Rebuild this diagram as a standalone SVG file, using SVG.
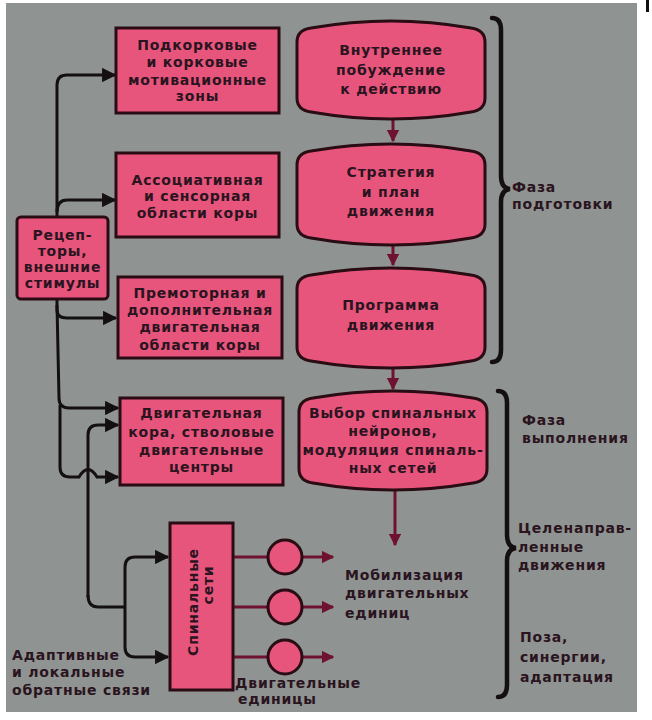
<svg xmlns="http://www.w3.org/2000/svg" width="652" height="720" viewBox="0 0 652 720">
<defs>
<style>
.box{fill:#e8557c;stroke:#2a0c14;stroke-width:3}
.t{font-family:"DejaVu Sans","Liberation Sans",sans-serif;font-weight:bold;font-size:14px;fill:#2a1420;text-anchor:middle;letter-spacing:0.8px}
.l{font-family:"DejaVu Sans","Liberation Sans",sans-serif;font-weight:bold;font-size:14px;fill:#2a1420;letter-spacing:0.8px}
.k{fill:none;stroke:#141012;stroke-width:3}
.m{fill:none;stroke:#6e1230;stroke-width:3}
.r{fill:none;stroke:#d42452;stroke-width:3}
.br{fill:none;stroke:#141012;stroke-width:4.5;stroke-linecap:round}
</style>
<marker id="ak" viewBox="0 0 10 10" refX="9" refY="5" markerWidth="4.8" markerHeight="4.8" orient="auto" markerUnits="strokeWidth"><path d="M0,0 L10,5 L0,10 Z" fill="#141012"/></marker>
<marker id="am" viewBox="0 0 10 10" refX="9" refY="5" markerWidth="4.2" markerHeight="4.2" orient="auto" markerUnits="strokeWidth"><path d="M0,0 L10,5 L0,10 Z" fill="#6e1230"/></marker>
</defs>
<rect x="0" y="0" width="652" height="720" fill="#ffffff"/>
<rect x="6" y="3" width="631" height="709" fill="#8f9391"/>
<rect x="646" y="0" width="3" height="12" fill="#141012"/>

<g id="connectors">
<path class="k" d="M57,217 L57,85 Q57,75 67,75 L115,75" marker-end="url(#ak)"/>
<path class="k" d="M57,212 Q57,200 67,200 L115,200" marker-end="url(#ak)"/>
<path class="k" d="M57,299 L57,310 Q57,318 67,318 L116,318" marker-end="url(#ak)"/>
<path class="k" d="M57,305 L59,398 Q59,408 69,408 L118,408" marker-end="url(#ak)"/>
<path class="k" d="M60,405 L60,467 Q60,477 70,477 L79,477 Q88,462 97,477 L118,477" marker-end="url(#ak)"/>
<path class="k" d="M88,597 L88,435 Q88,425 98,425 L118,425" marker-end="url(#ak)"/>
<path class="k" d="M88,595 Q88,607 98,607 L125,607"/>
<path class="k" d="M125,607 L125,567 Q125,557 135,557 L168,557" marker-end="url(#ak)"/>
<path class="k" d="M125,607 L125,647 Q125,657 135,657 L168,657" marker-end="url(#ak)"/>
<path class="m" d="M393,118 L393,141" marker-end="url(#am)"/>
<path class="m" d="M393,244 L393,265" marker-end="url(#am)"/>
<path class="m" d="M393,367 L393,389" marker-end="url(#am)"/>
<path class="m" d="M395,488 L395,545" marker-end="url(#am)"/>
<path class="r" d="M393,100 L393,118"/>
<path class="r" d="M393,228 L393,244"/>
<path class="r" d="M393,352 L393,367"/>
<path class="r" d="M395,474 L395,488"/>
<path class="m" d="M233,557 L268,557 M233,607 L268,607 M233,657 L268,657"/>
<path class="m" d="M302,557 L333,557" marker-end="url(#am)"/>
<path class="m" d="M302,607 L333,607" marker-end="url(#am)"/>
<path class="m" d="M302,657 L333,657" marker-end="url(#am)"/>
</g>

<g id="n-subcortical">
<rect class="box" x="116" y="28" width="163" height="85"/>
<text class="t" x="197.5" y="50">Подкорковые</text>
<text class="t" x="197.5" y="67">и корковые</text>
<text class="t" x="197.5" y="85">мотивационные</text>
<text class="t" x="197.5" y="101">зоны</text>
</g>
<g id="n-association">
<rect class="box" x="116" y="153" width="163" height="84"/>
<text class="t" x="197.5" y="185">Ассоциативная</text>
<text class="t" x="197.5" y="201">и сенсорная</text>
<text class="t" x="197.5" y="218">области коры</text>
</g>
<g id="n-receptors">
<rect class="box" x="17" y="217" width="91" height="82" rx="4"/>
<text class="t" x="62.5" y="240">Рецеп-</text>
<text class="t" x="62.5" y="256">торы,</text>
<text class="t" x="62.5" y="272">внешние</text>
<text class="t" x="62.5" y="288">стимулы</text>
</g>
<g id="n-premotor">
<rect class="box" x="118" y="277" width="164" height="81"/>
<text class="t" x="200" y="298">Премоторная и</text>
<text class="t" x="200" y="315">дополнительная</text>
<text class="t" x="200" y="332">двигательная</text>
<text class="t" x="200" y="350">области коры</text>
</g>
<g id="n-motorcortex">
<rect class="box" x="120" y="398" width="163" height="87"/>
<text class="t" x="201.5" y="418">Двигательная</text>
<text class="t" x="201.5" y="437">кора, стволовые</text>
<text class="t" x="201.5" y="455">двигательные</text>
<text class="t" x="201.5" y="472">центры</text>
</g>
<g id="n-spinal">
<rect class="box" x="170" y="523" width="63" height="167"/>
<text class="t" transform="translate(198,602) rotate(-90)">Спинальные</text>
<text class="t" transform="translate(213,585) rotate(-90)">сети</text>
</g>
<g id="n-units">
<circle class="box" cx="285" cy="557" r="17"/>
<circle class="box" cx="285" cy="607" r="17"/>
<circle class="box" cx="285" cy="657" r="17"/>
</g>
<g id="n-drive">
<path class="box" d="M297,42 Q297,30 311,28 Q391,14 471,28 Q485,30 485,42 L485,98 Q485,110 471,112 Q391,126 311,112 Q297,110 297,98 Z"/>
<text class="t" x="391" y="55">Внутреннее</text>
<text class="t" x="391" y="75">побуждение</text>
<text class="t" x="391" y="94">к действию</text>
</g>
<g id="n-strategy">
<path class="box" d="M297,165 Q297,153 311,151 Q391,137 471,151 Q485,153 485,165 L485,224 Q485,236 471,238 Q391,252 311,238 Q297,236 297,224 Z"/>
<text class="t" x="391" y="177">Стратегия</text>
<text class="t" x="391" y="197">и план</text>
<text class="t" x="391" y="216">движения</text>
</g>
<g id="n-program">
<path class="box" d="M297,289 Q297,277 311,275 Q391,261 471,275 Q485,277 485,289 L485,347 Q485,359 471,361 Q391,375 311,361 Q297,359 297,347 Z"/>
<text class="t" x="391" y="310">Программа</text>
<text class="t" x="391" y="330">движения</text>
</g>
<g id="n-selection">
<path class="box" d="M299,412 Q299,400 313,398 Q393,384 473,398 Q487,400 487,412 L487,469 Q487,481 473,483 Q393,497 313,483 Q299,481 299,469 Z"/>
<text class="t" x="393" y="418">Выбор спинальных</text>
<text class="t" x="393" y="436">нейронов,</text>
<text class="t" x="393" y="455">модуляция спиналь-</text>
<text class="t" x="393" y="473">ных сетей</text>
</g>

<g id="braces">
<path class="br" d="M492,18 Q501,18 501,30 L501,176 Q501,188 510,189 Q501,190 501,202 L501,350 Q501,362 492,362"/>
<path class="br" d="M498,391 Q507,391 507,403 L507,535 Q507,547 516,548 Q507,549 507,561 L507,685 Q507,697 498,697"/>
</g>

<g id="labels">
<text class="l" x="512" y="192">Фаза</text>
<text class="l" x="512" y="209">подготовки</text>
<text class="l" x="522" y="425">Фаза</text>
<text class="l" x="522" y="443">выполнения</text>
<text class="l" x="518" y="533">Целенаправ-</text>
<text class="l" x="518" y="552">ленные</text>
<text class="l" x="518" y="570">движения</text>
<text class="l" x="520" y="642">Поза,</text>
<text class="l" x="520" y="662">синергии,</text>
<text class="l" x="520" y="682">адаптация</text>
<text class="l" x="345" y="580">Мобилизация</text>
<text class="l" x="345" y="598">двигательных</text>
<text class="l" x="345" y="618">единиц</text>
<text class="l" x="235" y="688">Двигательные</text>
<text class="l" x="238" y="704">единицы</text>
<text class="l" x="12" y="660">Адаптивные</text>
<text class="l" x="12" y="677">и локальные</text>
<text class="l" x="12" y="695">обратные связи</text>
</g>
</svg>
